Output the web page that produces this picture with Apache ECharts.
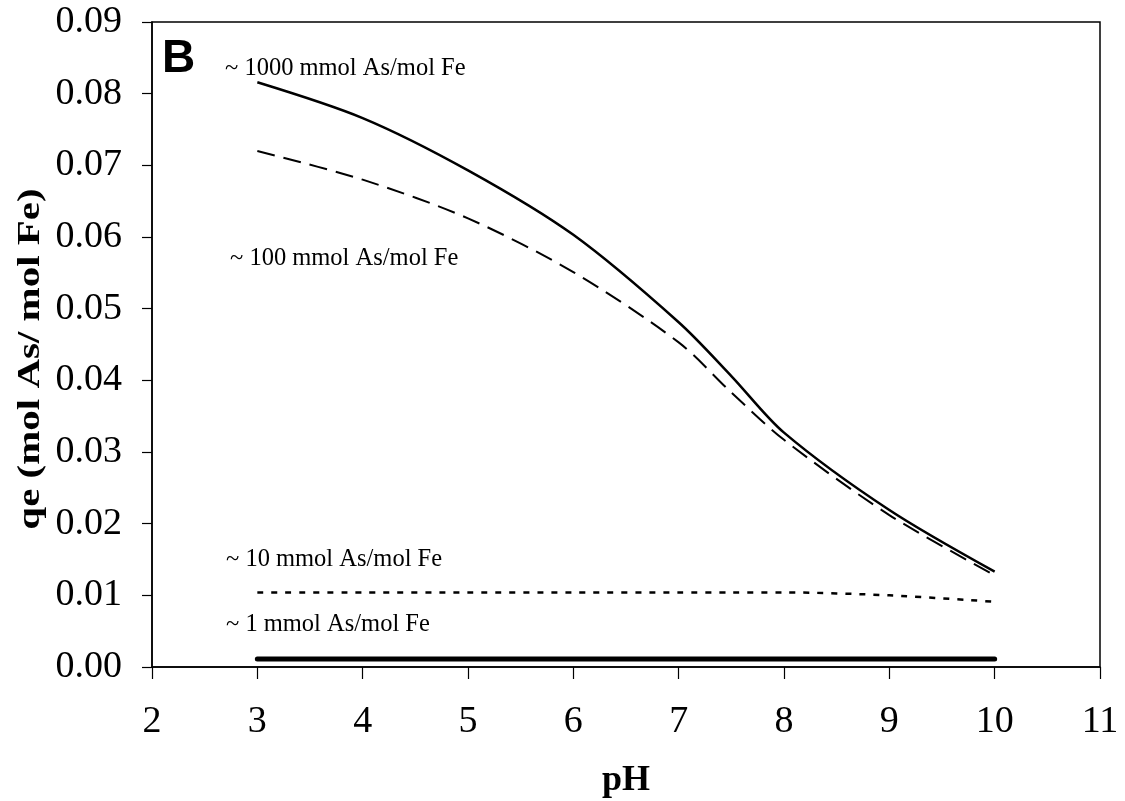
<!DOCTYPE html>
<html>
<head>
<meta charset="utf-8">
<script src="https://cdn.jsdelivr.net/npm/echarts@6/dist/echarts.min.js"></script>
<style>
  html, body { margin: 0; padding: 0; background: #fff; }
  #main { width: 1125px; height: 801px; }
</style>
</head>
<body>
<div id="main"></div>
<script>
var pH = [3, 4, 5, 6, 7, 7.5, 8, 9, 10];
var q1000 = [0.0816, 0.0766, 0.0693, 0.0603, 0.0481, 0.0406, 0.0327, 0.0219, 0.0133];
var q100 = [0.0720, 0.0680, 0.0626, 0.0551, 0.0453, 0.0383, 0.0317, 0.0212, 0.0128];
var q10 = [0.0104, 0.0104, 0.0104, 0.0104, 0.0104, 0.0104, 0.0104, 0.0100, 0.0091];
var q1 = [0.0011, 0.0011, 0.0011, 0.0011, 0.0011, 0.0011, 0.0011, 0.0011, 0.0011];

function pairs(ys) {
  return pH.map(function (x, i) { return [x, ys[i]]; });
}

var serif = '"Liberation Serif", "Times New Roman", serif';
function curveLabel(text, x, y) {
  return { type: 'text', x: x, y: y, silent: true,
    style: { text: text, fill: '#000', font: '24.5px ' + serif, align: 'left', verticalAlign: 'middle' } };
}

var option = {
  animation: false,
  grid: { left: 152, right: 25, top: 22, bottom: 134, outerBoundsMode: 'none' },
  xAxis: {
    type: 'value', min: 2, max: 11, interval: 1,
    name: 'pH', nameLocation: 'middle', nameGap: 96,
    nameTextStyle: { fontFamily: serif, fontWeight: 'bold', fontSize: 36, color: '#000' },
    axisLine: { lineStyle: { color: '#000', width: 1.5 } },
    axisTick: { inside: false, length: 12, lineStyle: { color: '#000', width: 1.2 } },
    axisLabel: { fontFamily: serif, fontSize: 38, color: '#000', margin: 36 },
    splitLine: { show: false }
  },
  yAxis: {
    type: 'value', min: 0, max: 0.09, interval: 0.01,
    axisLine: { lineStyle: { color: '#000', width: 1.5 } },
    axisTick: { inside: false, length: 10, lineStyle: { color: '#000', width: 1.2 } },
    axisLabel: {
      fontFamily: serif, fontSize: 38, color: '#000', margin: 30,
      formatter: function (v) { return v.toFixed(2); }
    },
    splitLine: { show: false }
  },
  graphic: [
    { type: 'rect', shape: { x: 152, y: 22, width: 948, height: 645 }, style: { fill: 'none', stroke: '#000', lineWidth: 1.5 }, silent: true },
    { type: 'text', x: 31, y: 359, rotation: Math.PI / 2, scaleX: 1.28, silent: true,
      style: { text: 'qe (mol As/ mol Fe)', fill: '#000', font: 'bold 32px ' + serif, align: 'center', verticalAlign: 'middle' } },
    { type: 'text', x: 162, y: 59, silent: true,
      style: { text: 'B', fill: '#000', font: 'bold 46px "Liberation Sans", Arial, sans-serif', align: 'left', verticalAlign: 'middle' } },
    curveLabel('~ 1000 mmol As/mol Fe', 225, 69),
    curveLabel('~ 100 mmol As/mol Fe', 230, 259),
    curveLabel('~ 10 mmol As/mol Fe', 226, 560),
    curveLabel('~ 1 mmol As/mol Fe', 226, 625)
  ],
  series: [
    { name: '1000', type: 'line', smooth: 0.3, showSymbol: false, data: pairs(q1000),
      lineStyle: { color: '#000', width: 2.5 } },
    { name: '100', type: 'line', smooth: 0.3, showSymbol: false, data: pairs(q100),
      lineStyle: { color: '#000', width: 2, type: [18, 9] } },
    { name: '10', type: 'line', smooth: 0.3, showSymbol: false, data: pairs(q10),
      lineStyle: { color: '#000', width: 2.5, type: [6, 8] } },
    { name: '1', type: 'line', showSymbol: false, data: pairs(q1),
      lineStyle: { color: '#000', width: 5, cap: 'round' } }
  ]
};

var chartDom = document.getElementById('main');
var myChart = echarts.init(chartDom);
option && myChart.setOption(option);
</script>
</body>
</html>
